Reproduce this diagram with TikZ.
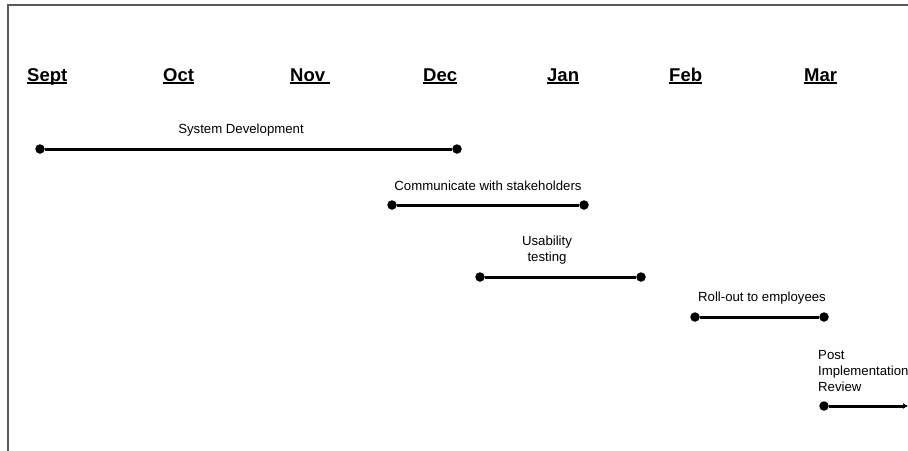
\documentclass[tikz,border=0pt]{standalone}
\usepackage{fontspec}
\setmainfont{Liberation Sans}
\usetikzlibrary{arrows.meta}
\newcommand\ulmonth[1]{\setbox0\hbox{#1}\rlap{\rule[-2.6pt]{\wd0}{2pt}}\box0}
\tikzset{
  month/.style={anchor=base west, inner sep=0pt, font=\fontsize{18.5}{20}\selectfont\bfseries},
  label/.style={inner sep=0pt, font=\fontsize{13.2}{16}\selectfont, align=center},
  dotnode/.style={circle, fill=black, inner sep=0pt, minimum size=9.5pt},
  bar/.style={line width=3pt},
  frame/.style={draw=black!65, line width=1.6pt}
}
\begin{document}
\begin{tikzpicture}[x=1pt,y=-1pt]
\useasboundingbox (0,0) rectangle (908,450);
\draw[frame] (8,451) -- (8,5) -- (909,5);
% months
\node[month] (sept) at (27,81) {\ulmonth{Sept}};
\node[month] (oct) at (163,81) {\ulmonth{Oct}};
\node[month] (nov) at (290,81) {\ulmonth{Nov\ }};
\node[month] (dec) at (423,81) {\ulmonth{Dec}};
\node[month] (jan) at (547,81) {\ulmonth{Jan}};
\node[month] (feb) at (669,81) {\ulmonth{Feb}};
\node[month] (mar) at (804,81) {\ulmonth{Mar}};
% tasks
\node[label] (t1) at (241,130) {System Development};
\node[dotnode] (a1) at (40,149) {};
\node[dotnode] (b1) at (457,149) {};
\draw[bar] (a1) -- (b1);

\node[label] (t2) at (488,186) {Communicate with stakeholders};
\node[dotnode] (a2) at (392,205) {};
\node[dotnode] (b2) at (584,205) {};
\draw[bar] (a2) -- (b2);

\node[label] (t3) at (547,250) {Usability\\testing};
\node[dotnode] (a3) at (480,277) {};
\node[dotnode] (b3) at (641,277) {};
\draw[bar] (a3) -- (b3);

\node[label] (t4) at (762,298) {Roll-out to employees};
\node[dotnode] (a4) at (695,317) {};
\node[dotnode] (b4) at (824,317) {};
\draw[bar] (a4) -- (b4);

\node[label, align=left, anchor=west] (t5) at (818,371) {Post\\Implementation\\Review};
\node[dotnode] (a5) at (824,406) {};
\coordinate (e5) at (908,406);
\draw[bar, -{Latex[length=5pt,width=6pt]}] (a5) -- (e5);
\end{tikzpicture}
\end{document}
